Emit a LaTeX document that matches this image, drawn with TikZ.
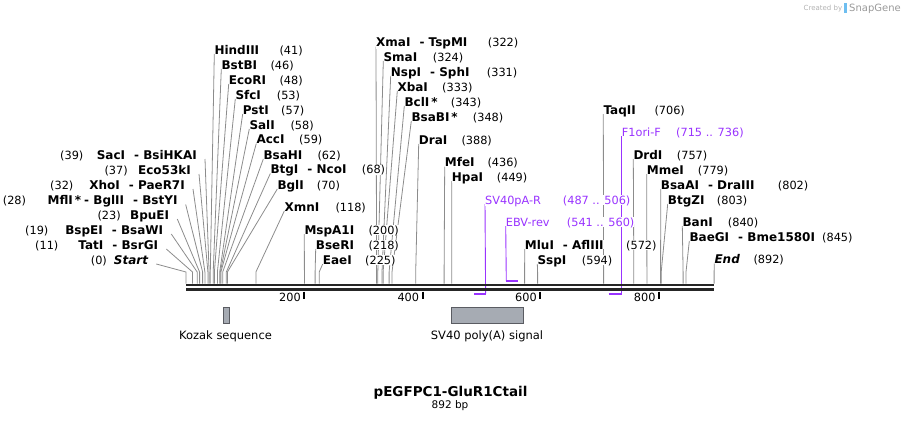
\documentclass[tikz,border=0pt]{standalone}
\usepackage{fontspec}
\setmainfont{DejaVu Sans}
\definecolor{primer}{RGB}{153,51,255}
\definecolor{featfill}{RGB}{166,171,179}
\definecolor{featline}{RGB}{90,92,98}
\definecolor{cutgray}{RGB}{140,140,140}
\definecolor{sgblue}{RGB}{110,190,240}
\pgfdeclarelayer{background}
\pgfsetlayers{background,main}

\begin{document}
\begin{tikzpicture}[x=1pt,y=-1pt,
  enz/.style={inner sep=0,fill=white,anchor=base west,font=\fontsize{12}{14}\selectfont\bfseries},
  enzl/.style={enz,anchor=base east},
  num/.style={inner sep=0,fill=white,anchor=base west,font=\fontsize{11.3}{14}\selectfont},
  prm/.style={num,text=primer},
  cut/.style={draw=cutgray,line width=0.8pt},
  prmline/.style={draw=primer,line width=0.9pt},
  prmbar/.style={draw=primer,line width=2pt},
  featbox/.style={draw=featline,fill=featfill,line width=0.9pt},
  backbone/.style={draw=black!85,line width=2.6pt}]
\useasboundingbox (0,0) rectangle (901,423);

% cut sites on the backbone
\coordinate (c0) at (186.0,283.5);
\coordinate (c11) at (192.5,283.5);
\coordinate (c19) at (197.2,283.5);
\coordinate (c23) at (199.6,283.5);
\coordinate (c28) at (202.6,283.5);
\coordinate (c32) at (204.9,283.5);
\coordinate (c37) at (207.9,283.5);
\coordinate (c39) at (209.1,283.5);
\coordinate (c41) at (210.3,283.5);
\coordinate (c46) at (213.2,283.5);
\coordinate (c48) at (214.4,283.5);
\coordinate (c53) at (217.4,283.5);
\coordinate (c57) at (219.7,283.5);
\coordinate (c58) at (220.3,283.5);
\coordinate (c59) at (220.9,283.5);
\coordinate (c62) at (222.7,283.5);
\coordinate (c68) at (226.3,283.5);
\coordinate (c70) at (227.4,283.5);
\coordinate (c118) at (255.9,283.5);
\coordinate (c200) at (304.4,283.5);
\coordinate (c218) at (315.1,283.5);
\coordinate (c225) at (319.2,283.5);
\coordinate (c322) at (376.6,283.5);
\coordinate (c324) at (377.8,283.5);
\coordinate (c331) at (382.0,283.5);
\coordinate (c333) at (383.1,283.5);
\coordinate (c343) at (389.1,283.5);
\coordinate (c348) at (392.0,283.5);
\coordinate (c388) at (415.7,283.5);
\coordinate (c436) at (444.1,283.5);
\coordinate (c449) at (451.8,283.5);
\coordinate (c572) at (524.6,283.5);
\coordinate (c594) at (537.6,283.5);
\coordinate (c706) at (603.6,283.5);
\coordinate (c757) at (633.8,283.5);
\coordinate (c779) at (646.9,283.5);
\coordinate (c802) at (660.6,283.5);
\coordinate (c803) at (661.2,283.5);
\coordinate (c840) at (683.1,283.5);
\coordinate (c845) at (686.0,283.5);
\coordinate (c892) at (714.1,283.5);

% left labels
\node[enzl] (SacI) at (197,159) {SacI\hspace{9pt}- BsiHKAI};
\node[num] (nSacI) at (60,159) {(39)};
\node[enzl] (Eco53kI) at (191,174) {Eco53kI};
\node[num] (nEco53kI) at (104.3,174) {(37)};
\node[enzl] (XhoI) at (185,189) {XhoI\hspace{9pt}- PaeR7I};
\node[num] (nXhoI) at (50,189) {(32)};
\node[enzl] (MflI) at (177.7,204.5) {MflI\,*\hspace{3pt}- BglII\hspace{9pt}- BstYI};
\node[num] (nMflI) at (2.7,204.5) {(28)};
\node[enzl] (BpuEI) at (169.3,219) {BpuEI};
\node[num] (nBpuEI) at (97.3,219) {(23)};
\node[enzl] (BspEI) at (163.3,234) {BspEI\hspace{9pt}- BsaWI};
\node[num] (nBspEI) at (25,234) {(19)};
\node[enzl] (TatI) at (158.3,249) {TatI\hspace{9pt}- BsrGI};
\node[num] (nTatI) at (35,249) {(11)};
\node[enzl] (Start) at (148.3,264) {\itshape Start};
\node[num] (nStart) at (90.7,264) {(0)};

% upper left labels
\node[enz] (HindIII) at (214.3,54) {HindIII};
\node[num] (nHindIII) at (279.3,54) {(41)};
\node[enz] (BstBI) at (221.3,69) {BstBI};
\node[num] (nBstBI) at (270.3,69) {(46)};
\node[enz] (EcoRI) at (228.7,84) {EcoRI};
\node[num] (nEcoRI) at (279.3,84) {(48)};
\node[enz] (SfcI) at (235.3,99) {SfcI};
\node[num] (nSfcI) at (276.7,99) {(53)};
\node[enz] (PstI) at (242.7,114) {PstI};
\node[num] (nPstI) at (281,114) {(57)};
\node[enz] (SalI) at (249.3,129) {SalI};
\node[num] (nSalI) at (290.3,129) {(58)};
\node[enz] (AccI) at (256.3,143.5) {AccI};
\node[num] (nAccI) at (299,143.5) {(59)};
\node[enz] (BsaHI) at (263.3,159) {BsaHI};
\node[num] (nBsaHI) at (317.3,159) {(62)};
\node[enz] (BtgI) at (270.3,173.5) {BtgI\hspace{9pt}- NcoI};
\node[num] (nBtgI) at (361.7,173.5) {(68)};
\node[enz] (BglI) at (277.3,189) {BglI};
\node[num] (nBglI) at (316.7,189) {(70)};
\node[enz] (XmnI) at (284.3,211) {XmnI};
\node[num] (nXmnI) at (335.3,211) {(118)};
\node[enz] (MspA1I) at (304.3,234) {MspA1I};
\node[num] (nMspA1I) at (368.3,234) {(200)};
\node[enz] (BseRI) at (315.7,249) {BseRI};
\node[num] (nBseRI) at (368.3,249) {(218)};
\node[enz] (EaeI) at (322.7,264) {EaeI};
\node[num] (nEaeI) at (365,264) {(225)};

% middle labels
\node[enz] (XmaI) at (376,46.5) {XmaI\hspace{9pt}- TspMI};
\node[num] (nXmaI) at (487.7,46.5) {(322)};
\node[enz] (SmaI) at (383.3,61) {SmaI};
\node[num] (nSmaI) at (432.7,61) {(324)};
\node[enz] (NspI) at (390.7,76) {NspI\hspace{9pt}- SphI};
\node[num] (nNspI) at (486.7,76) {(331)};
\node[enz] (XbaI) at (397.3,91) {XbaI};
\node[num] (nXbaI) at (442,91) {(333)};
\node[enz] (BclI) at (404.3,106) {BclI\,*};
\node[num] (nBclI) at (450.7,106) {(343)};
\node[enz] (BsaBI) at (411.3,121) {BsaBI\,*};
\node[num] (nBsaBI) at (472.7,121) {(348)};
\node[enz] (DraI) at (418.7,144) {DraI};
\node[num] (nDraI) at (461.3,144) {(388)};
\node[enz] (MfeI) at (444.7,166.5) {MfeI};
\node[num] (nMfeI) at (487.3,166.5) {(436)};
\node[enz] (HpaI) at (451.7,181) {HpaI};
\node[num] (nHpaI) at (496.7,181) {(449)};
\node[prm] (SVpAR) at (485,204) {SV40pA-R};
\node[prm] (nSVpAR) at (562.7,204) {(487 .. 506)};
\node[prm] (EBVrev) at (505.7,226) {EBV-rev};
\node[prm] (nEBVrev) at (566.7,226) {(541 .. 560)};
\node[enz] (MluI) at (524.7,249) {MluI\hspace{9pt}- AflIII};
\node[num] (nMluI) at (626,249) {(572)};
\node[enz] (SspI) at (537.3,264) {SspI};
\node[num] (nSspI) at (581.7,264) {(594)};

% right labels
\node[enz] (TaqII) at (603.3,114) {TaqII};
\node[num] (nTaqII) at (654.3,114) {(706)};
\node[prm] (F1oriF) at (621.7,136) {F1ori-F};
\node[prm] (nF1oriF) at (676,136) {(715 .. 736)};
\node[enz] (DrdI) at (633.3,159) {DrdI};
\node[num] (nDrdI) at (676.7,159) {(757)};
\node[enz] (MmeI) at (646.7,174) {MmeI};
\node[num] (nMmeI) at (697.7,174) {(779)};
\node[enz] (BsaAI) at (660.7,189) {BsaAI\hspace{9pt}- DraIII};
\node[num] (nBsaAI) at (777.7,189) {(802)};
\node[enz] (BtgZI) at (667.7,204) {BtgZI};
\node[num] (nBtgZI) at (716.7,204) {(803)};
\node[enz] (BanI) at (682.3,226) {BanI};
\node[num] (nBanI) at (727.7,226) {(840)};
\node[enz] (BaeGI) at (689.3,241) {BaeGI\hspace{9pt}- Bme1580I};
\node[num] (nBaeGI) at (822,241) {(845)};
\node[enz] (End) at (714.3,263.5) {\itshape End};
\node[num] (nEnd) at (753.3,263.5) {(892)};

% lines to the cut sites, behind the labels
\begin{pgfonlayer}{background}
\draw[cut] ([xshift=8pt]SacI.base east) -- ([yshift=11.5pt]c39) -- (c39);
\draw[cut] ([xshift=8pt]Eco53kI.base east) -- ([yshift=11.5pt]c37) -- (c37);
\draw[cut] ([xshift=8pt]XhoI.base east) -- ([yshift=11.5pt]c32) -- (c32);
\draw[cut] ([xshift=8pt]MflI.base east) -- ([yshift=11.5pt]c28) -- (c28);
\draw[cut] ([xshift=8pt]BpuEI.base east) -- ([yshift=11.5pt]c23) -- (c23);
\draw[cut] ([xshift=8pt]BspEI.base east) -- ([yshift=11.5pt]c19) -- (c19);
\draw[cut] ([xshift=8pt]TatI.base east) -- ([yshift=11.5pt]c11) -- (c11);
\draw[cut] ([xshift=8pt]Start.base east) -- ([yshift=11.5pt]c0) -- (c0);
\draw[cut] (HindIII.base west) -- ([yshift=11.5pt]c41) -- (c41);
\draw[cut] (BstBI.base west) -- ([yshift=11.5pt]c46) -- (c46);
\draw[cut] (EcoRI.base west) -- ([yshift=11.5pt]c48) -- (c48);
\draw[cut] (SfcI.base west) -- ([yshift=11.5pt]c53) -- (c53);
\draw[cut] (PstI.base west) -- ([yshift=11.5pt]c57) -- (c57);
\draw[cut] (SalI.base west) -- ([yshift=11.5pt]c58) -- (c58);
\draw[cut] (AccI.base west) -- ([yshift=11.5pt]c59) -- (c59);
\draw[cut] (BsaHI.base west) -- ([yshift=11.5pt]c62) -- (c62);
\draw[cut] (BtgI.base west) -- ([yshift=11.5pt]c68) -- (c68);
\draw[cut] (BglI.base west) -- ([yshift=11.5pt]c70) -- (c70);
\draw[cut] (XmnI.base west) -- ([yshift=11.5pt]c118) -- (c118);
\draw[cut] (MspA1I.base west) -- ([yshift=11.5pt]c200) -- (c200);
\draw[cut] (BseRI.base west) -- ([yshift=11.5pt]c218) -- (c218);
\draw[cut] (EaeI.base west) -- ([yshift=11.5pt]c225) -- (c225);
\draw[cut] (XmaI.base west) -- ([yshift=11.5pt]c322) -- (c322);
\draw[cut] (SmaI.base west) -- ([yshift=11.5pt]c324) -- (c324);
\draw[cut] (NspI.base west) -- ([yshift=11.5pt]c331) -- (c331);
\draw[cut] (XbaI.base west) -- ([yshift=11.5pt]c333) -- (c333);
\draw[cut] (BclI.base west) -- ([yshift=11.5pt]c343) -- (c343);
\draw[cut] (BsaBI.base west) -- ([yshift=11.5pt]c348) -- (c348);
\draw[cut] (DraI.base west) -- ([yshift=11.5pt]c388) -- (c388);
\draw[cut] (MfeI.base west) -- ([yshift=11.5pt]c436) -- (c436);
\draw[cut] (HpaI.base west) -- ([yshift=11.5pt]c449) -- (c449);
\draw[cut] (MluI.base west) -- ([yshift=11.5pt]c572) -- (c572);
\draw[cut] (SspI.base west) -- ([yshift=11.5pt]c594) -- (c594);
\draw[cut] (TaqII.base west) -- ([yshift=11.5pt]c706) -- (c706);
\draw[cut] (DrdI.base west) -- ([yshift=11.5pt]c757) -- (c757);
\draw[cut] (MmeI.base west) -- ([yshift=11.5pt]c779) -- (c779);
\draw[cut] (BsaAI.base west) -- ([yshift=11.5pt]c802) -- (c802);
\draw[cut] (BtgZI.base west) -- ([yshift=11.5pt]c803) -- (c803);
\draw[cut] (BanI.base west) -- ([yshift=11.5pt]c840) -- (c840);
\draw[cut] (BaeGI.base west) -- ([yshift=11.5pt]c845) -- (c845);
\draw[cut] (End.base west) -- ([yshift=11.5pt]c892) -- (c892);
\end{pgfonlayer}

% backbone and ruler
\coordinate (bbL) at (186,284.8);
\coordinate (bbR) at (714.3,284.8);
\draw[backbone] (bbL) -- (bbR);
\draw[backbone] ([yshift=-4.7pt]bbL) -- ([yshift=-4.7pt]bbR);
\foreach \t/\x in {200/304.4,400/422.8,600/540.4,800/659.2}{
  \draw[line width=2pt] (\x,291.5) -- (\x,298.5);
  \node[num,anchor=base east] (t\t) at (\x-3.5,301.5) {\t};
}

% primers
\coordinate (p487) at (474.3,293.5);
\coordinate (p506) at (485.6,293.5);
\coordinate (e541) at (506.3,281);
\coordinate (e560) at (517.5,281);
\coordinate (f715) at (608.6,293.5);
\coordinate (f736) at (621.7,293.5);
\draw[prmbar] (p487) -- (p506);
\draw[prmbar] (e541) -- (e560);
\draw[prmbar] (f715) -- (f736);
\begin{pgfonlayer}{background}
\draw[prmline] (SVpAR.base west) -- (p506);
\draw[prmline] (EBVrev.base west) -- (e541);
\draw[prmline] (F1oriF.base west) -- (f736);
\end{pgfonlayer}

% features
\draw[featbox] (223.3,307.3) rectangle (229.3,323.3);
\draw[featbox] (451.7,307.3) rectangle (523.3,323.3);
\node[font=\fontsize{11.5}{14}\selectfont] (kozak) at (225.5,336.5) {Kozak sequence};
\node[font=\fontsize{11.5}{14}\selectfont] (sv40) at (487,336.5) {SV40 poly(A) signal};

% title
\node[font=\fontsize{13.5}{16}\selectfont\bfseries] (title) at (450.5,392.5) {pEGFPC1-GluR1Ctail};
\node[font=\fontsize{10.5}{12}\selectfont] (bp) at (450,406) {892 bp};

% watermark
\node[inner sep=0,anchor=base west,text=black!30,font=\fontsize{7}{8}\selectfont] (created) at (803.5,10) {Created by};
\fill[sgblue] (843.5,3) rectangle (847,12.5);
\node[inner sep=0,anchor=base west,text=black!40,font=\fontsize{10}{11}\selectfont] (snapgene) at (849,11) {SnapGene};
\end{tikzpicture}
\end{document}
